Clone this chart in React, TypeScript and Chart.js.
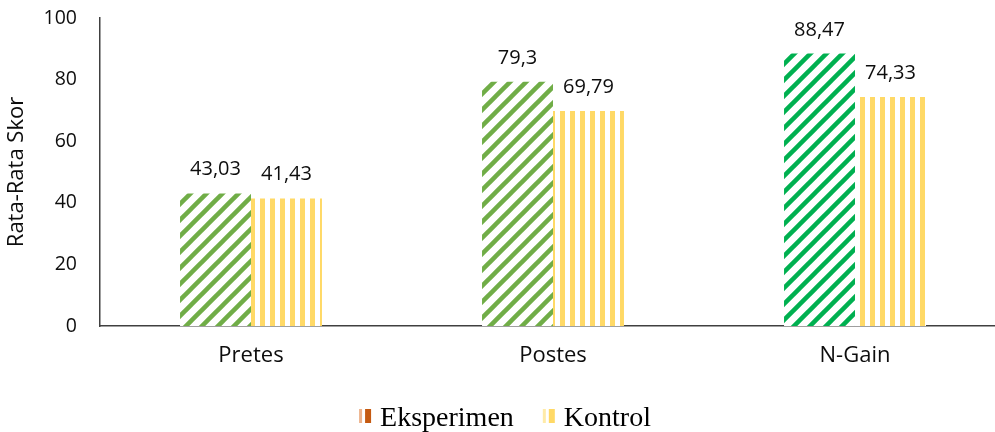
import { useEffect, useRef } from 'react';
import { Chart, registerables } from 'chart.js';

Chart.register(...registerables);

const categories = ['Pretes', 'Postes', 'N-Gain'];
const eksperimen = [43.03, 79.3, 88.47];
const kontrol = [41.43, 69.79, 74.33];
const seriesNames = ['Eksperimen', 'Kontrol'];
const yMin = 0;
const yMax = 100;
const yStep = 20;
const yTitle = 'Rata-Rata Skor';

const expColors = ['#70AD47', '#70AD47', '#00B050'];
const kontrolColor = '#FFD966';
const legendColors = ['#C55A11', '#FFD966'];
const legendLight = ['#EDB38C', '#FFEBA8'];

const W = 1010;
const H = 432;

function diagPattern(color: string): CanvasPattern | string {
  const p = 16;
  const c = document.createElement('canvas');
  c.width = p;
  c.height = p;
  const g = c.getContext('2d');
  if (!g) return color;
  g.fillStyle = '#ffffff';
  g.fillRect(0, 0, p, p);
  g.strokeStyle = color;
  g.lineWidth = 4.5;
  g.lineCap = 'square';
  for (let k = 0; k <= 2; k++) {
    const cc = k * p;
    g.beginPath();
    g.moveTo(cc + 2, -2);
    g.lineTo(cc - p - 2, p + 2);
    g.stroke();
  }
  return g.createPattern(c, 'repeat') || color;
}

function vertPattern(color: string): CanvasPattern | string {
  const p = 10;
  const c = document.createElement('canvas');
  c.width = p;
  c.height = 4;
  const g = c.getContext('2d');
  if (!g) return color;
  g.fillStyle = '#ffffff';
  g.fillRect(0, 0, p, 4);
  g.fillStyle = color;
  g.fillRect(0, 0, 5, 4);
  return g.createPattern(c, 'repeat') || color;
}

const fmt = (v: number) => String(v).replace('.', ',');

const dataLabels = {
  id: 'dataLabels',
  afterDatasetsDraw(chart: any) {
    const ctx = chart.ctx;
    ctx.save();
    ctx.font = '20px "Open Sans"';
    ctx.fillStyle = '#0d0d0d';
    ctx.textAlign = 'center';
    ctx.textBaseline = 'alphabetic';
    chart.data.datasets.forEach((ds: any, i: number) => {
      const meta = chart.getDatasetMeta(i);
      meta.data.forEach((bar: any, j: number) => {
        ctx.fillText(fmt(ds.data[j]), bar.x, bar.y - 18);
      });
    });
    ctx.restore();
  },
};

const customLegend = {
  id: 'customLegend',
  afterDraw(chart: any) {
    const ctx = chart.ctx;
    ctx.save();
    ctx.font = '28px "Liberation Serif"';
    ctx.textBaseline = 'alphabetic';
    ctx.textAlign = 'left';
    const markerW = 12;
    const gapText = 9;
    const gapItem = 29;
    const widths = seriesNames.map((s) => ctx.measureText(s).width);
    const total = widths.reduce((a: number, b: number) => a + b, 0) + seriesNames.length * (markerW + gapText) + gapItem * (seriesNames.length - 1);
    let x = 505 - total / 2;
    const baseline = 426;
    seriesNames.forEach((name, i) => {
      ctx.fillStyle = legendLight[i];
      ctx.fillRect(x, 409, 3, 14);
      ctx.fillStyle = legendColors[i];
      ctx.fillRect(x + 6, 409, 6, 14);
      x += markerW + gapText;
      ctx.fillStyle = '#000000';
      ctx.fillText(name, x, baseline);
      x += widths[i] + gapItem;
    });
    ctx.restore();
  },
};

export default function App() {
  const ref = useRef<HTMLCanvasElement | null>(null);

  useEffect(() => {
    const canvas = ref.current;
    if (!canvas) return;
    const chart = new Chart(canvas, {
      type: 'bar',
      data: {
        labels: categories,
        datasets: [
          {
            label: seriesNames[0],
            data: eksperimen,
            backgroundColor: expColors.map((c) => diagPattern(c)) as any,
            borderWidth: 0,
          },
          {
            label: seriesNames[1],
            data: kontrol,
            backgroundColor: vertPattern(kontrolColor) as any,
            borderWidth: 0,
          },
        ],
      },
      options: {
        animation: false,
        responsive: false,
        devicePixelRatio: 1,
        layout: { padding: { left: 0, top: 18, right: 4, bottom: 0 } },
        datasets: { bar: { categoryPercentage: 0.47, barPercentage: 1 } },
        plugins: {
          legend: { display: false },
          tooltip: { enabled: false },
        },
        scales: {
          x: {
            grid: { display: false, drawTicks: false },
            border: { display: true, color: '#404040', width: 1.5 },
            ticks: {
              color: '#0d0d0d',
              font: { family: '"Open Sans"', size: 22 },
              padding: 17,
              maxRotation: 0,
            },
            afterFit(scale: any) {
              scale.height = 106;
            },
          },
          y: {
            min: yMin,
            max: yMax,
            grid: { display: false, drawTicks: true, tickLength: 23 },
            border: { display: true, color: '#404040', width: 1.5 },
            ticks: {
              stepSize: yStep,
              color: '#0d0d0d',
              font: { family: '"Open Sans"', size: 19.5 },
              padding: 0,
            },
            title: {
              display: true,
              text: yTitle,
              color: '#0d0d0d',
              font: { family: '"Open Sans"', size: 22 },
              padding: { top: 4, bottom: 0 },
            },
            afterFit(scale: any) {
              scale.width = 100;
            },
          },
        },
      },
      plugins: [dataLabels, customLegend],
    });
    return () => chart.destroy();
  }, []);

  return (
    <div style={{ position: 'fixed', left: 0, top: 0, width: 995, height: 432, overflow: 'hidden', background: '#ffffff' }}>
      <canvas ref={ref} width={W} height={H} style={{ width: W, height: H, display: 'block' }} />
    </div>
  );
}
